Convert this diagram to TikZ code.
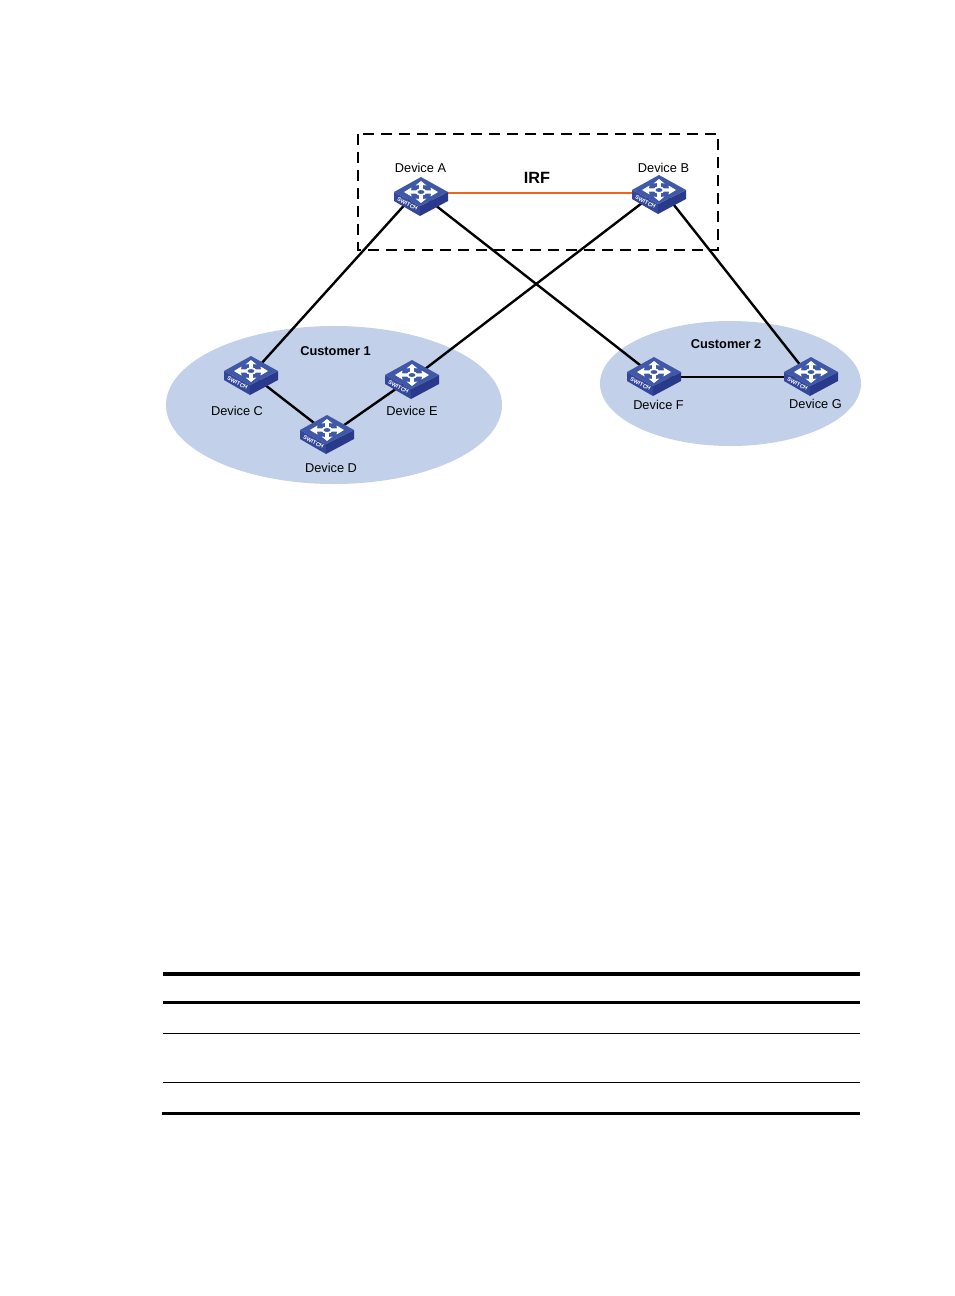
\documentclass[tikz,border=0pt]{standalone}
\usepackage{fontspec}
\setmainfont{Liberation Sans}
\usetikzlibrary{calc}
\definecolor{cloudblue}{HTML}{C2D0EA}
\definecolor{swtop}{HTML}{3F58A8}
\definecolor{swside}{HTML}{2A3A8A}
\definecolor{swfront}{HTML}{34479A}
\definecolor{irflink}{HTML}{F0641E}
\pgfdeclarelayer{icons}
\pgfsetlayers{main,icons}
\tikzset{
  x=0.75pt,y=-0.75pt,
  cloud/.style={fill=cloudblue,draw=none},
  device/.style={font=\fontsize{9.6pt}{11pt}\selectfont,inner sep=0pt},
  group/.style={font=\bfseries\fontsize{9.6pt}{11pt}\selectfont,inner sep=0pt},
  hub/.style={inner sep=0pt,minimum size=1pt,draw=none},
  trunk/.style={line width=1.8pt,black},
  thin link/.style={line width=1.4pt,black},
  irfpath/.style={line width=1.6pt,irflink},
  stack/.style={line width=1.5pt,dash pattern=on 8.6pt off 4.9pt},
  rulethick/.style={line width=3pt},
  rulemid/.style={line width=2.3pt},
  rulethin/.style={line width=0.9pt},
  pics/switch/.style={code={
    \fill[swfront] (-27,0) -- (-1,14) -- (-1,24) -- (-27,9) -- cycle;
    \fill[swside] (27,0) -- (-1,14) -- (-1,24) -- (27,9) -- cycle;
    \fill[swtop] (-27,0) -- (0,-15) -- (27,0) -- (-1,14) -- cycle;
    % four white arrows around the hub
    \fill[white] (-17,0) -- (-9.5,-4.5) -- (-10,-1.6) -- (-4,-1.6) -- (-4,1.6) -- (-10,1.6) -- (-9.5,4.5) -- cycle;
    \fill[white] (17,0) -- (9.5,-4.5) -- (10,-1.6) -- (4,-1.6) -- (4,1.6) -- (10,1.6) -- (9.5,4.5) -- cycle;
    \fill[white] (0,-11) -- (-5.5,-6.5) -- (-1.8,-7) -- (-1.8,-3) -- (1.8,-3) -- (1.8,-7) -- (5.5,-6.5) -- cycle;
    \fill[white] (0,11) -- (-5.5,6.5) -- (-1.8,7) -- (-1.8,3) -- (1.8,3) -- (1.8,7) -- (5.5,6.5) -- cycle;
    \fill[swtop,draw=white,line width=1.2pt] (0,0) ellipse (4.6 and 2.9);
    \node[white,font=\bfseries\fontsize{4.2pt}{4.2pt}\selectfont,inner sep=0pt,rotate=-27] at (-13.5,12) {SWITCH};
  }}
}
\begin{document}
\begin{tikzpicture}
\useasboundingbox (0,0) rectangle (954,1296);
\fill[white] (0,0) rectangle (954,1296);

% customer sites
\fill[cloud] (334,405) ellipse (168 and 79);
\fill[cloud] (730.5,383.5) ellipse (130.5 and 62.5);

% IRF boundary
\draw[stack] (358,134) rectangle (718,250);

% switch positions
\node[hub] (A) at (421,192) {};
\node[hub] (B) at (659,190) {};
\node[hub] (C) at (251,371) {};
\node[hub] (D) at (327,430) {};
\node[hub] (E) at (412,375) {};
\node[hub] (F) at (654,372) {};
\node[hub] (G) at (811,372) {};

% links
\draw[irfpath] ([yshift=-0.75pt]A.center) -- ([yshift=-2.25pt]B.center);
\draw[trunk] ([yshift=4pt]A.center) -- ([yshift=-3pt]C.center);
\draw[trunk] ([yshift=-1.5pt]A.center) -- ([yshift=-3pt]F.center);
\draw[trunk] (B.center) -- ([yshift=-3pt]E.center);
\draw[trunk] ([yshift=3pt]B.center) -- ([yshift=-5pt]G.center);
\draw[trunk] ([yshift=-2.25pt]C.center) -- ([yshift=-2.25pt]D.center);
\draw[trunk] ([yshift=-5.25pt]D.center) -- ([yshift=-2pt]E.center);
\draw[thin link] ([yshift=-3.75pt]F.center) -- ([yshift=-3.75pt]G.center);

% switch icons
\begin{pgfonlayer}{icons}
\foreach \n in {A,B,C,D,E,F,G} \pic at (\n) {switch};
\end{pgfonlayer}

% labels
\node[device] (la) at (420.5,168) {Device A};
\node[device] (lb) at (663.5,168) {Device B};
\node[device] (lc) at (237,411) {Device C};
\node[device] (ld) at (331,468) {Device D};
\node[device] (le) at (412,411) {Device E};
\node[device] (lf) at (658.5,405) {Device F};
\node[device] (lg) at (815.5,404) {Device G};
\node[group] (c1) at (335.5,351) {Customer 1};
\node[group] (c2) at (726,344) {Customer 2};
\node[font=\bfseries\fontsize{12.2pt}{14pt}\selectfont,inner sep=0pt] (irf) at (537,178) {IRF};

% table rules
\draw[rulethick] (163,974) -- (860,974);
\draw[rulemid] (163,1002.5) -- (860,1002.5);
\draw[rulethin] (163,1033.5) -- (860,1033.5);
\draw[rulethin] (163,1082.5) -- (860,1082.5);
\draw[rulemid] (162,1113.6) -- (860,1113.6);
\end{tikzpicture}
\end{document}
